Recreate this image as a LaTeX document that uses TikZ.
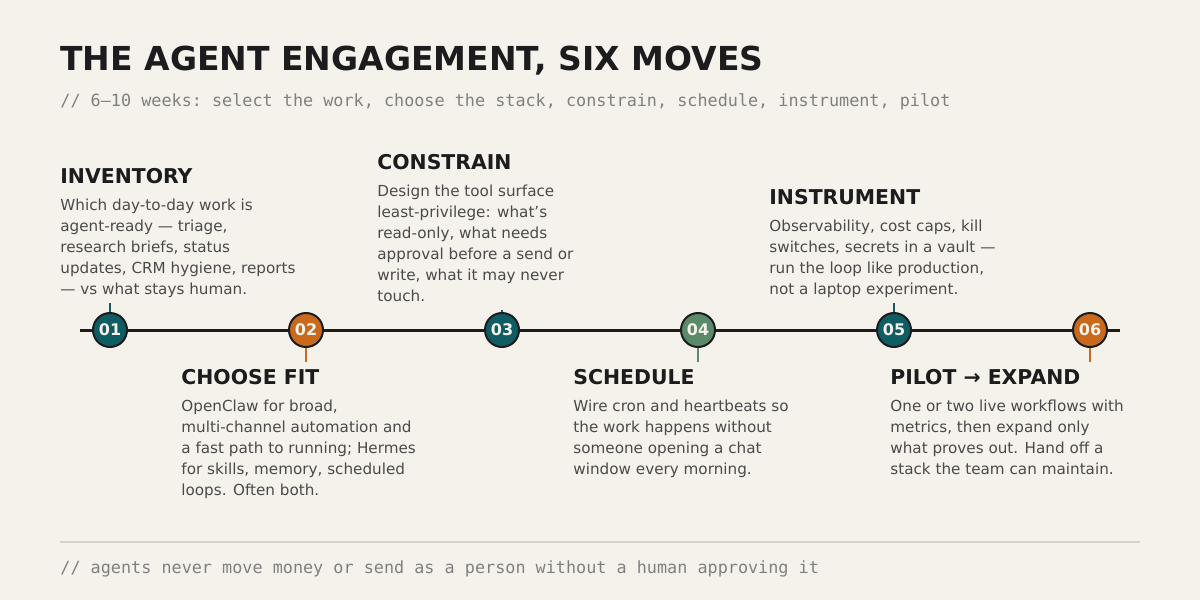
\documentclass[tikz,border=0pt]{standalone}
\usepackage{fontspec}
\setmainfont{DejaVu Sans}
\setmonofont{DejaVu Sans Mono}
\usetikzlibrary{positioning}
\definecolor{bgC}{HTML}{F5F2EB}
\definecolor{inkC}{HTML}{1C1C1E}
\definecolor{bodyC}{HTML}{4A4A4A}
\definecolor{monoC}{HTML}{808080}
\definecolor{ruleC}{HTML}{D6D2C8}
\definecolor{tealC}{HTML}{0F5C63}
\definecolor{orgC}{HTML}{C8691C}
\definecolor{grnC}{HTML}{5A8A6A}
\tikzstyle{mdot}=[draw=inkC, line width=1pt, circle, minimum size=17pt, inner sep=0pt, text=bgC, font=\fontsize{8}{8}\selectfont\bfseries]
\tikzstyle{mstep}=[anchor=north west, align=left, inner sep=0pt, text=bodyC, font=\fontsize{7.6}{10.5}\selectfont]
\tikzstyle{mtick}=[line width=1pt]
\newcommand{\hd}[1]{{\fontsize{10.2}{12}\selectfont\bfseries\color{inkC}#1}\\[3pt]}
\def\mdot{\node[style=mdot]}
\def\mstep{\node[style=mstep]}
\begin{document}
\begin{tikzpicture}[x=0.5pt, y=-0.5pt]
      \fill[bgC] (0,0) rectangle (1200,600);
      % title
      \node[anchor=base west, inner sep=0pt, text=inkC, font=\fontsize{16.5}{18}\selectfont\bfseries] (title) at (60,70) {THE AGENT ENGAGEMENT, SIX MOVES};
      \node[anchor=base west, inner sep=0pt, text=monoC, font=\fontsize{8.4}{10}\selectfont\ttfamily] (sub) at (60,106) {// 6–10 weeks: select the work, choose the stack, constrain, schedule, instrument, pilot};
      % axis
      \coordinate (axL) at (80,330);
      \coordinate (axR) at (1120,330);
      \draw[inkC, line width=1.5pt] (axL) -- (axR);
      % dots
      \mdot[fill=tealC] (d1) at (110,330)  {01};
      \mdot[fill=orgC]  (d2) at (306,330)  {02};
      \mdot[fill=tealC] (d3) at (502,330)  {03};
      \mdot[fill=grnC]  (d4) at (698,330)  {04};
      \mdot[fill=tealC] (d5) at (894,330)  {05};
      \mdot[fill=orgC]  (d6) at (1090,330) {06};
      % ticks
      \coordinate (t1) at (110,303);
      \coordinate (t3) at (502,310);
      \coordinate (t5) at (894,303);
      \coordinate (t2) at (306,362);
      \coordinate (t4) at (698,362);
      \coordinate (t6) at (1090,362);
      \draw[mtick, tealC] (d1.north) -- (t1);
      \draw[mtick, tealC] (d3.north) -- (t3);
      \draw[mtick, tealC] (d5.north) -- (t5);
      \draw[mtick, orgC]  (d2.south) -- (t2);
      \draw[mtick, grnC]  (d4.south) -- (t4);
      \draw[mtick, orgC]  (d6.south) -- (t6);
      % steps
      \mstep (s1) at (60,168)  {\hd{INVENTORY}Which day-to-day work is\\agent-ready — triage,\\research briefs, status\\updates, CRM hygiene, reports\\— vs what stays human.};
      \mstep (s3) at (377,154) {\hd{CONSTRAIN}Design the tool surface\\least-privilege: what's\\read-only, what needs\\approval before a send or\\write, what it may never\\touch.};
      \mstep (s5) at (769,189) {\hd{INSTRUMENT}Observability, cost caps, kill\\switches, secrets in a vault —\\run the loop like production,\\not a laptop experiment.};
      \mstep (s2) at (181,369) {\hd{CHOOSE FIT}OpenClaw for broad,\\multi-channel automation and\\a fast path to running; Hermes\\for skills, memory, scheduled\\loops. Often both.};
      \mstep (s4) at (573,369) {\hd{SCHEDULE}Wire cron and heartbeats so\\the work happens without\\someone opening a chat\\window every morning.};
      \mstep (s6) at (890,369) {\hd{PILOT → EXPAND}One or two live workflows with\\metrics, then expand only\\what proves out. Hand off a\\stack the team can maintain.};
      % footer
      \coordinate (rL) at (60,542);
      \coordinate (rR) at (1140,542);
      \draw[ruleC, line width=0.6pt] (rL) -- (rR);
      \node[anchor=base west, inner sep=0pt, text=monoC, font=\fontsize{8.4}{10}\selectfont\ttfamily] (foot) at (60,573) {// agents never move money or send as a person without a human approving it};
\end{tikzpicture}
\end{document}
